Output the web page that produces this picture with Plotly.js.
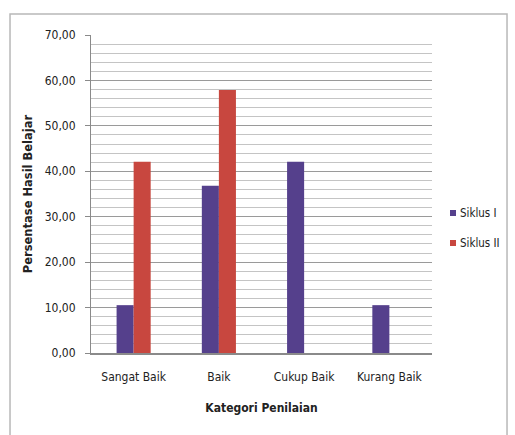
<!DOCTYPE html>
<html>
<head>
<meta charset="utf-8">
<script src="https://cdn.plot.ly/plotly-3.0.1.min.js"></script>
<style>html,body{margin:0;padding:0;background:#fff;}#chart{width:515px;height:435px;}</style>
</head>
<body>
<div id="chart"></div>
<script>
const categories = ["Sangat Baik", "Baik", "Cukup Baik", "Kurang Baik"];
const siklus1 = [10.53, 36.84, 42.11, 10.53];
const siklus2 = [42.11, 57.89, 0, 0];
const seriesNames = ["Siklus I", "Siklus II"];
const seriesColors = ["#55408c", "#c8473f"];
const yTickVals = [0, 10, 20, 30, 40, 50, 60, 70];
const yTickText = ["0,00", "10,00", "20,00", "30,00", "40,00", "50,00", "60,00", "70,00"];

const FONT = "DejaVu Sans Condensed, Liberation Sans Narrow, sans-serif";

const data = [
  {type: "bar", name: seriesNames[0], x: categories, y: siklus1, marker: {color: seriesColors[0]}},
  {type: "bar", name: seriesNames[1], x: categories, y: siklus2, marker: {color: seriesColors[1]}}
];

// manual legend (small square swatches like the original)
const PW = 341, PH = 318, PL = 91, PB = 353;
const px2x = p => (p - PL) / PW;
const py2y = p => (PB - p) / PH;
const legendRows = [213, 243];
const legendShapes = seriesNames.map((n, i) => ({
  type: "rect", xref: "paper", yref: "paper",
  x0: px2x(450), x1: px2x(456), y0: py2y(legendRows[i] + 3), y1: py2y(legendRows[i] - 3),
  line: {width: 0}, fillcolor: seriesColors[i]
}));
const legendAnn = seriesNames.map((n, i) => ({
  xref: "paper", yref: "paper", x: px2x(458), y: py2y(legendRows[i]),
  xanchor: "left", yanchor: "middle", text: n, showarrow: false,
  font: {family: FONT, size: 11.5, color: "#222"}
}));

const layout = {
  width: 515, height: 435,
  margin: {l: 91, r: 83, t: 35, b: 82, autoexpand: false},
  paper_bgcolor: "#fff", plot_bgcolor: "#fff",
  barmode: "group", bargap: 0.6, bargroupgap: 0,
  font: {family: FONT, size: 12, color: "#222"},
  showlegend: false,
  xaxis: {
    type: "category",
    showline: true, linecolor: "#8a8a8a", linewidth: 1.5,
    ticks: "", showgrid: false, ticklabelstandoff: 12,
    tickfont: {family: FONT, size: 12, color: "#222"},
    title: {text: "<b>Kategori Penilaian</b>", font: {family: FONT, size: 12, color: "#222"}, standoff: 20}
  },
  yaxis: {
    range: [0, 70], tickvals: yTickVals, ticktext: yTickText,
    showline: true, linecolor: "#8a8a8a", linewidth: 1,
    ticks: "outside", ticklen: 5, tickcolor: "#8a8a8a",
    ticklabelstandoff: 7,
    showgrid: true, gridcolor: "#9a9a9a", gridwidth: 1,
    minor: {dtick: 2, showgrid: true, gridcolor: "#c4c4c4", gridwidth: 1, ticks: ""},
    zeroline: false,
    tickfont: {family: FONT, size: 12, color: "#222"},
    title: {text: "<b>Persentase Hasil Belajar</b>", font: {family: "DejaVu Sans, sans-serif", size: 11.5, color: "#222"}, standoff: 9}
  },
  shapes: [
    {type: "rect", xref: "paper", yref: "paper", x0: -0.2375, x1: 1.22, y0: -0.4, y1: 1.066,
     line: {color: "#b8b8b8", width: 1.5}, fillcolor: "rgba(0,0,0,0)", layer: "below"}
  ].concat(legendShapes),
  annotations: legendAnn
};

Plotly.newPlot("chart", data, layout, {staticPlot: true, displayModeBar: false});
</script>
</body>
</html>
